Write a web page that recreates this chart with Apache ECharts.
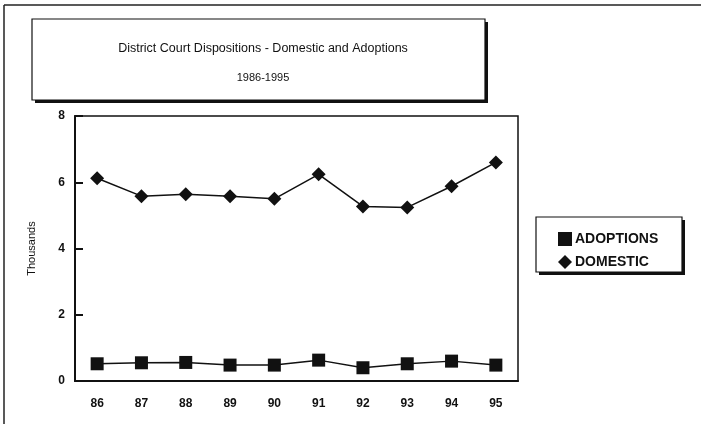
<!DOCTYPE html>
<html>
<head>
<meta charset="utf-8">
<script src="https://cdn.jsdelivr.net/npm/echarts@6/dist/echarts.min.js"></script>
<style>
  html, body { margin: 0; padding: 0; background: #fff; }
  #chart { width: 701px; height: 424px; }
</style>
</head>
<body>
<div id="chart"></div>
<script>
// years 1986-1995, values in thousands
const years = ['86', '87', '88', '89', '90', '91', '92', '93', '94', '95'];
const adoptions = [0.52, 0.55, 0.56, 0.48, 0.48, 0.63, 0.40, 0.52, 0.60, 0.48];
const domestic = [6.12, 5.58, 5.64, 5.58, 5.50, 6.24, 5.27, 5.24, 5.88, 6.60];
const yTicks = [0, 2, 4, 6, 8];

let myChart = echarts.init(document.getElementById('chart'));
let font = 'Liberation Sans, Arial, sans-serif';
let option = {
  animation: false,
  backgroundColor: '#fff',
  title: {
    text: 'District Court Dispositions - Domestic and Adoptions',
    subtext: '1986-1995',
    left: 258,
    top: 37,
    textAlign: 'center',
    itemGap: 17,
    textStyle: { fontFamily: font, fontSize: 12.5, fontWeight: 'normal', color: '#111' },
    subtextStyle: { fontFamily: font, fontSize: 11, color: '#111' }
  },
  graphic: [
    // outer frame (left + top)
    { type: 'line', shape: { x1: 4, y1: 5, x2: 701, y2: 5 }, style: { stroke: '#222', lineWidth: 1.5 } },
    { type: 'line', shape: { x1: 4, y1: 5, x2: 4, y2: 424 }, style: { stroke: '#222', lineWidth: 1.5 } },
    // title box shadow + box
    { type: 'rect', z: -1, shape: { x: 35, y: 22, width: 453, height: 81 }, style: { fill: '#111' } },
    { type: 'rect', z: 0, shape: { x: 32, y: 19, width: 453, height: 81 }, style: { fill: '#fff', stroke: '#111', lineWidth: 1.2 } },
    // legend box shadow + box
    { type: 'rect', z: -1, shape: { x: 539, y: 220, width: 146, height: 55 }, style: { fill: '#111' } },
    { type: 'rect', z: 0, shape: { x: 536, y: 217, width: 146, height: 55 }, style: { fill: '#fff', stroke: '#111', lineWidth: 1.2 } }
  ],
  legend: {
    orient: 'vertical',
    left: 553,
    top: 227,
    itemWidth: 14,
    itemHeight: 14,
    itemGap: 9,
    z: 5,
    textStyle: { fontFamily: font, fontSize: 14, fontWeight: 'bold', color: '#111', padding: [0, 0, 0, -2] },
    data: [
      { name: 'ADOPTIONS', icon: 'rect' },
      { name: 'DOMESTIC', icon: 'diamond' }
    ]
  },
  grid: {
    left: 75,
    right: 183,
    top: 116,
    bottom: 43,
    show: true,
    borderColor: '#111',
    borderWidth: 1.5
  },
  xAxis: {
    type: 'category',
    data: years,
    boundaryGap: true,
    axisLine: { lineStyle: { color: '#111', width: 2 } },
    axisTick: { inside: true, alignWithLabel: true, length: 6, lineStyle: { color: '#111', width: 2 } },
    axisLabel: { fontFamily: font, fontSize: 12, fontWeight: 'bold', color: '#111', margin: 17 }
  },
  yAxis: {
    type: 'value',
    min: yTicks[0],
    max: yTicks[yTicks.length - 1],
    interval: 2,
    name: 'Thousands',
    nameLocation: 'middle',
    nameGap: 38,
    nameTextStyle: { fontFamily: font, fontSize: 11, color: '#111' },
    axisLine: { show: true, lineStyle: { color: '#111', width: 2 } },
    axisTick: { show: true, inside: true, length: 8, lineStyle: { color: '#111', width: 2 } },
    splitLine: { show: false },
    axisLabel: { fontFamily: font, fontSize: 12, fontWeight: 'bold', color: '#111', margin: 10 }
  },
  series: [
    {
      name: 'ADOPTIONS',
      type: 'line',
      data: adoptions,
      symbol: 'rect',
      symbolSize: 13,
      itemStyle: { color: '#111' },
      lineStyle: { color: '#111', width: 1.5 }
    },
    {
      name: 'DOMESTIC',
      type: 'line',
      data: domestic,
      symbol: 'diamond',
      symbolSize: 14,
      itemStyle: { color: '#111' },
      lineStyle: { color: '#111', width: 1.5 }
    }
  ]
};
myChart.setOption(option);
</script>
</body>
</html>
